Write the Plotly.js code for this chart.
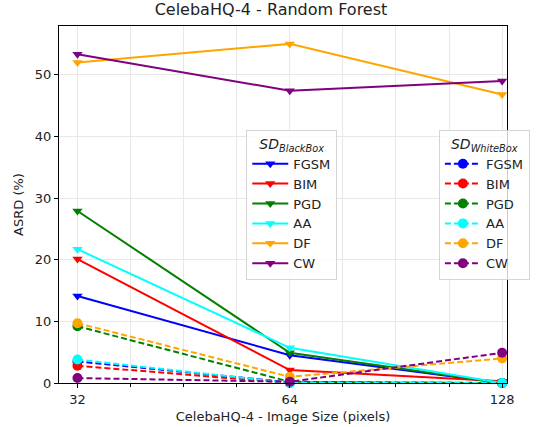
<!DOCTYPE html>
<html><head><meta charset="utf-8">
<script src="https://cdn.plot.ly/plotly-3.0.1.min.js"></script>
<style>body{margin:0;background:#fff}#chart{width:542px;height:427px}</style>
</head><body><div id="chart"></div>
<script>
const sizes = [32, 64, 128];
const attacks = ["FGSM", "BIM", "PGD", "AA", "DF", "CW"];
const colors = ["blue", "red", "green", "cyan", "orange", "purple"];
const blackBox = {
  FGSM: [14.1, 4.5, 0.0],
  BIM:  [20.1, 2.1, 0.3],
  PGD:  [27.9, 4.9, 0.0],
  AA:   [21.7, 5.7, 0.0],
  DF:   [52.0, 55.0, 46.8],
  CW:   [53.3, 47.4, 49.0]
};
const whiteBox = {
  FGSM: [3.5, 0.1, 0.0],
  BIM:  [2.8, 0.0, 0.0],
  PGD:  [9.2, 0.2, 0.0],
  AA:   [3.8, 0.0, 0.0],
  DF:   [9.7, 1.0, 4.0],
  CW:   [0.8, 0.2, 4.9]
};
const xTicks = [32, 64, 128];
const yTicks = [0, 10, 20, 30, 40, 50];

const traces = [];
attacks.forEach((a, i) => {
  traces.push({x: sizes, y: blackBox[a], name: a, type: 'scatter', mode: 'lines+markers',
    line: {color: colors[i], width: 2}, marker: {symbol: 'triangle-down', size: 9, color: colors[i]},
    legend: 'legend', cliponaxis: false});
});
attacks.forEach((a, i) => {
  traces.push({x: sizes, y: whiteBox[a], name: a, type: 'scatter', mode: 'lines+markers',
    line: {color: colors[i], width: 2, dash: '6px,3px'}, marker: {symbol: 'circle', size: 10, color: colors[i]},
    legend: 'legend2', cliponaxis: false});
});

const minorVals = [];
[5, 6].forEach(p => [0.25, 0.5, 0.75].forEach(f => minorVals.push(Math.pow(2, p + f))));

const font = {family: 'DejaVu Sans, sans-serif', size: 13, color: '#222'};
const legBase = {
  bgcolor: 'rgba(255,255,255,0.8)', bordercolor: '#d5d5d5', borderwidth: 1,
  font: {family: 'DejaVu Sans, sans-serif', size: 13, color: '#222'},
  xanchor: 'left', yanchor: 'top', tracegroupgap: 0, itemwidth: 36
};
const layout = {
  width: 542, height: 427,
  margin: {l: 59, r: 21, t: 26, b: 44},
  paper_bgcolor: '#fff', plot_bgcolor: '#fff',
  font: font,
  showlegend: true,
  title: {text: 'CelebaHQ-4 - Random Forest', x: 0.5, xanchor: 'center', y: 0.99, yanchor: 'top',
    font: {family: 'DejaVu Sans, sans-serif', size: 16, color: '#222'}},
  xaxis: {
    type: 'log', range: [Math.log10(Math.pow(2, 4.913)), Math.log10(Math.pow(2, 7.023))],
    tickmode: 'array', tickvals: xTicks, ticktext: xTicks.map(String),
    ticks: 'outside', ticklen: 4, tickcolor: '#000', showline: true, linecolor: '#000', linewidth: 1, mirror: true,
    showgrid: true, gridcolor: '#e8e8e8', gridwidth: 1, zeroline: false,
    minor: {tickmode: 'array', tickvals: minorVals, ticks: 'outside', ticklen: 3, tickcolor: '#000', showgrid: true, gridcolor: '#e8e8e8'},
    title: {text: 'CelebaHQ-4 - Image Size (pixels)', standoff: 6, font: {family: 'DejaVu Sans, sans-serif', size: 13, color: '#222'}},
    tickfont: {family: 'DejaVu Sans, sans-serif', size: 13, color: '#222'}
  },
  yaxis: {
    range: [0, 57.9], tickmode: 'array', tickvals: yTicks,
    ticks: 'outside', ticklen: 4, tickcolor: '#000', showline: true, linecolor: '#000', linewidth: 1, mirror: true,
    showgrid: true, gridcolor: '#e8e8e8', gridwidth: 1, zeroline: false,
    title: {text: 'ASRD (%)', standoff: 8, font: {family: 'DejaVu Sans, sans-serif', size: 13, color: '#222'}},
    tickfont: {family: 'DejaVu Sans, sans-serif', size: 13, color: '#222'}
  },
  legend: Object.assign({}, legBase, {x: 0.418, y: 0.71,
    title: {text: '<i>SD</i><sub><i>BlackBox</i></sub>', side: 'top center', font: {family: 'DejaVu Sans, sans-serif', size: 14, color: '#222'}}}),
  legend2: Object.assign({}, legBase, {x: 0.848, y: 0.71,
    title: {text: '<i>SD</i><sub><i>WhiteBox</i></sub>', side: 'top center', font: {family: 'DejaVu Sans, sans-serif', size: 14, color: '#222'}}})
};
Plotly.newPlot('chart', traces, layout, {displayModeBar: false, staticPlot: true});
</script>
</body></html>
